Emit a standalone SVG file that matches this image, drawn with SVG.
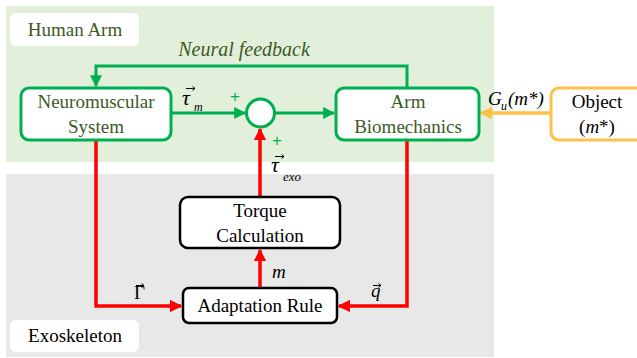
<svg xmlns="http://www.w3.org/2000/svg" width="637" height="358" viewBox="0 0 637 358" font-family="Times New Roman">
<defs>
<marker id="ag" viewBox="0 0 10 10" refX="9" refY="5" markerWidth="4" markerHeight="4" orient="auto" markerUnits="strokeWidth"><path d="M0,0 L10,5 L0,10 z" fill="#00b050"/></marker>
<marker id="ar" viewBox="0 0 10 10" refX="9" refY="5" markerWidth="3.6" markerHeight="3.6" orient="auto" markerUnits="strokeWidth"><path d="M0,0 L10,5 L0,10 z" fill="#ff0000"/></marker>
<marker id="ao" viewBox="0 0 10 10" refX="9" refY="5" markerWidth="3.6" markerHeight="3.6" orient="auto" markerUnits="strokeWidth"><path d="M0,0 L10,5 L0,10 z" fill="#ffc04a"/></marker>
</defs>
<rect width="637" height="358" fill="#fff"/>
<g id="backgrounds">
<rect x="6" y="6" width="488" height="156" fill="#e2efda"/>
<rect x="6" y="174" width="488" height="183" fill="#e8e8e8"/>
</g>
<g id="human-arm-label">
<rect x="10" y="13" width="129" height="33" rx="6" fill="#fff"/>
<text font-family="Times New Roman" font-size="19" text-anchor="middle" fill="#3d5a26" x="75" y="36">Human Arm</text>
</g>
<g id="exoskeleton-label">
<rect x="10" y="320" width="129" height="32" rx="6" fill="#fff"/>
<text font-family="Times New Roman" font-size="19" text-anchor="middle" fill="#000" x="75" y="342">Exoskeleton</text>
</g>
<g id="connectors" fill="none">
<polyline stroke="#00b050" stroke-width="3" points="407,88 407,66 96,66 96,86" marker-end="url(#ag)"/>
<line stroke="#00b050" stroke-width="3" x1="171" y1="113" x2="245" y2="113" marker-end="url(#ag)"/>
<line stroke="#00b050" stroke-width="3" x1="275" y1="113" x2="334" y2="113" marker-end="url(#ag)"/>
<line stroke="#ffc04a" stroke-width="3.5" x1="551" y1="113" x2="481" y2="113" marker-end="url(#ao)"/>
<polyline stroke="#ff0000" stroke-width="3.5" points="96,140 96,306 181,306" marker-end="url(#ar)"/>
<polyline stroke="#ff0000" stroke-width="3.5" points="407,140 407,306 339,306" marker-end="url(#ar)"/>
<line stroke="#ff0000" stroke-width="3.5" x1="260" y1="197" x2="260" y2="129" marker-end="url(#ar)"/>
<line stroke="#ff0000" stroke-width="3.5" x1="260" y1="288" x2="260" y2="250" marker-end="url(#ar)"/>
</g>
<g id="neural-feedback-label">
<text font-family="Times New Roman" font-style="italic" font-size="20" text-anchor="middle" fill="#3d5a26" x="244" y="56">Neural feedback</text>
</g>
<g id="neuromuscular">
<rect fill="#fff" stroke="#00b050" stroke-width="3" x="21" y="88" width="150" height="52" rx="8"/>
<text font-family="Times New Roman" font-size="19" text-anchor="middle" fill="#3d5a26" x="96" y="108">Neuromuscular</text>
<text font-family="Times New Roman" font-size="19" text-anchor="middle" fill="#3d5a26" x="96" y="133">System</text>
</g>
<g id="sum">
<circle cx="260.5" cy="113" r="14" fill="#fff" stroke="#00b050" stroke-width="3"/>
</g>
<g id="arm-biomechanics">
<rect fill="#fff" stroke="#00b050" stroke-width="3" x="336" y="88" width="143" height="52" rx="8"/>
<text font-family="Times New Roman" font-size="19" text-anchor="middle" fill="#3d5a26" x="408" y="108">Arm</text>
<text font-family="Times New Roman" font-size="19" text-anchor="middle" fill="#3d5a26" x="408" y="133">Biomechanics</text>
</g>
<g id="object">
<rect fill="#fff" stroke="#ffc04a" stroke-width="3" x="551" y="88" width="96" height="52" rx="8"/>
<text font-family="Times New Roman" font-size="19" text-anchor="middle" fill="#000" x="597" y="108">Object</text>
<text font-family="Times New Roman" font-size="19" text-anchor="middle" fill="#000" x="597" y="133">(<tspan font-style="italic">m</tspan>*)</text>
</g>
<g id="torque-calculation">
<rect fill="#fff" stroke="#000" stroke-width="2.5" x="180" y="197" width="160" height="51" rx="8"/>
<text font-family="Times New Roman" font-size="19" text-anchor="middle" fill="#000" x="260" y="217">Torque</text>
<text font-family="Times New Roman" font-size="19" text-anchor="middle" fill="#000" x="260" y="242">Calculation</text>
</g>
<g id="adaptation-rule">
<rect fill="#fff" stroke="#000" stroke-width="2.5" x="183" y="288" width="154" height="35" rx="6"/>
<text font-family="Times New Roman" font-size="19" text-anchor="middle" fill="#000" x="260" y="312">Adaptation Rule</text>
</g>
<g id="labels">
<text font-family="Times New Roman" font-style="italic" font-size="22" x="182" y="105">τ</text>
<path fill="none" stroke="#000" stroke-width="1" d="M186,88.5 H195 M192.5,86.5 L195,88.5 L192.5,90.5"/>
<text font-family="Times New Roman" font-style="italic" font-size="12" x="194" y="111">m</text>
<text font-family="Liberation Sans" font-size="17" fill="#00b050" text-anchor="middle" x="235" y="102">+</text>
<text font-family="Liberation Sans" font-size="17" fill="#00b050" text-anchor="middle" x="277" y="146">+</text>
<text font-family="Times New Roman" font-style="italic" font-size="22" x="271" y="172">τ</text>
<path fill="none" stroke="#000" stroke-width="1" d="M275,156.5 H284 M281.5,154.5 L284,156.5 L281.5,158.5"/>
<text font-family="Times New Roman" font-style="italic" font-size="13" x="283" y="181">exo</text>
<text font-family="Times New Roman" font-style="italic" font-size="19" x="272" y="278">m</text>
<text font-family="Times New Roman" font-style="italic" font-size="19" x="488" y="105">G</text>
<text font-family="Times New Roman" font-style="italic" font-size="12" x="501" y="110">u</text>
<text font-family="Times New Roman" font-style="italic" font-size="19" x="508" y="105">(m*)</text>
<text font-family="Times New Roman" font-size="19" x="134" y="299">Γ</text>
<path fill="none" stroke="#000" stroke-width="1" d="M136,285.5 H144 M141.5,283.5 L144,285.5 L141.5,287.5"/>
<text font-family="Times New Roman" font-style="italic" font-size="19" x="371" y="297">q</text>
<path fill="none" stroke="#000" stroke-width="1" d="M373,285.5 H381 M378.5,283.5 L381,285.5 L378.5,287.5"/>
</g>
</svg>
